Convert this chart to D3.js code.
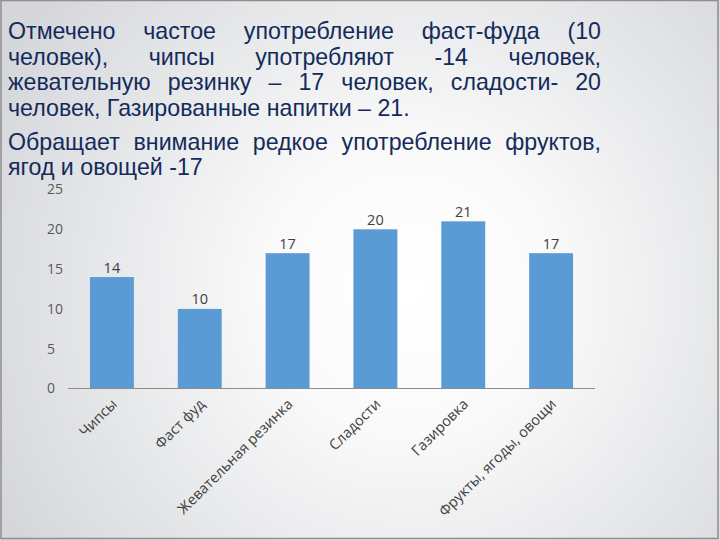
<!DOCTYPE html>
<html><head><meta charset="utf-8">
<script src="https://cdn.jsdelivr.net/npm/d3@7"></script>
<style>html,body{margin:0;padding:0;background:#fff;} svg{display:block}</style>
</head><body>
<svg id="c" width="720" height="540"></svg>
<script>
const categories = ["Чипсы", "Фаст фуд", "Жевательная резинка", "Сладости", "Газировка", "Фрукты, ягоды, овощи"];
const values = [14, 10, 17, 20, 21, 17];
const yTicks = [0, 5, 10, 15, 20, 25];
const paragraph1 = [
  "Отмечено частое употребление фаст-фуда (10",
  "человек), чипсы употребляют -14 человек,",
  "жевательную резинку – 17 человек, сладости- 20",
  "человек, Газированные напитки – 21."
];
const paragraph2 = [
  "Обращает внимание редкое употребление фруктов,",
  "ягод и овощей -17"
];

const svg = d3.select("#c");
const W = 720, H = 540;

// background
const defs = svg.append("defs");
const grad = defs.append("radialGradient").attr("id", "bg")
  .attr("gradientUnits", "userSpaceOnUse")
  .attr("cx", 410).attr("cy", 290).attr("r", 470);
grad.append("stop").attr("offset", 0).attr("stop-color", "#ffffff");
grad.append("stop").attr("offset", 0.3).attr("stop-color", "#fafafa");
grad.append("stop").attr("offset", 1).attr("stop-color", "#d4d6da");
svg.append("rect").attr("width", W).attr("height", H).attr("fill", "url(#bg)");
svg.append("rect").attr("x", 1).attr("y", 0.5).attr("width", 717).attr("height", 538)
  .attr("fill", "none").attr("stroke", "#8e8e8e").attr("stroke-width", 1.5);

// text block
const tg = svg.append("g").attr("font-family", "'Liberation Sans', Arial, sans-serif")
  .attr("font-size", 23.2).attr("fill", "#132b5b");
function line(text, x0, x1, y, justify) {
  if (!justify) { tg.append("text").attr("x", x0).attr("y", y).text(text); return; }
  const words = text.split(" ");
  const nodes = words.map(w => tg.append("text").attr("y", y).text(w));
  const widths = nodes.map(n => n.node().getComputedTextLength());
  const gap = (x1 - x0 - d3.sum(widths)) / (words.length - 1);
  let x = x0;
  nodes.forEach((n, i) => { n.attr("x", x); x += widths[i] + gap; });
}
const X0 = 8, X1 = 601;
paragraph1.forEach((t, i) => line(t, X0, X1, 39 + i * 25.7, i < paragraph1.length - 1));
paragraph2.forEach((t, i) => line(t, X0, X1, 150 + i * 25, i < paragraph2.length - 1));

// chart
const x = d3.scaleBand().domain(categories).range([68, 595]).paddingInner(0.5).paddingOuter(0.25);
const y = d3.scaleLinear().domain([0, 25]).range([388.5, 189.5]);

const cg = svg.append("g").attr("font-family", "'Open Sans', 'Liberation Sans', sans-serif");

cg.selectAll("text.yt").data(yTicks).enter().append("text")
  .attr("class", "yt").attr("x", 47).attr("y", d => y(d)).attr("dy", "0.35em")
  .attr("font-size", 14).attr("fill", "#595959").text(d => d);

cg.selectAll("rect.bar").data(values).enter().append("rect")
  .attr("class", "bar")
  .attr("x", (d, i) => x(categories[i]))
  .attr("width", x.bandwidth())
  .attr("y", d => y(d))
  .attr("height", d => y(0) - y(d))
  .attr("fill", "#5b9bd5");

cg.selectAll("text.lbl").data(values).enter().append("text")
  .attr("class", "lbl")
  .attr("x", (d, i) => x(categories[i]) + x.bandwidth() / 2)
  .attr("y", d => y(d) - 4.5)
  .attr("text-anchor", "middle").attr("font-size", 14.5).attr("fill", "#404040")
  .text(d => d);

cg.append("line").attr("x1", 68).attr("x2", 595).attr("y1", y(0)).attr("y2", y(0))
  .attr("stroke", "#8c8c8c").attr("stroke-width", 1);

cg.selectAll("text.cat").data(categories).enter().append("text")
  .attr("class", "cat")
  .attr("text-anchor", "end")
  .attr("font-size", 14.5).attr("fill", "#404040")
  .attr("transform", d => `translate(${x(d) + x.bandwidth() / 2 + 6},${405}) rotate(-45)`)
  .text(d => d);
</script>
</body></html>
